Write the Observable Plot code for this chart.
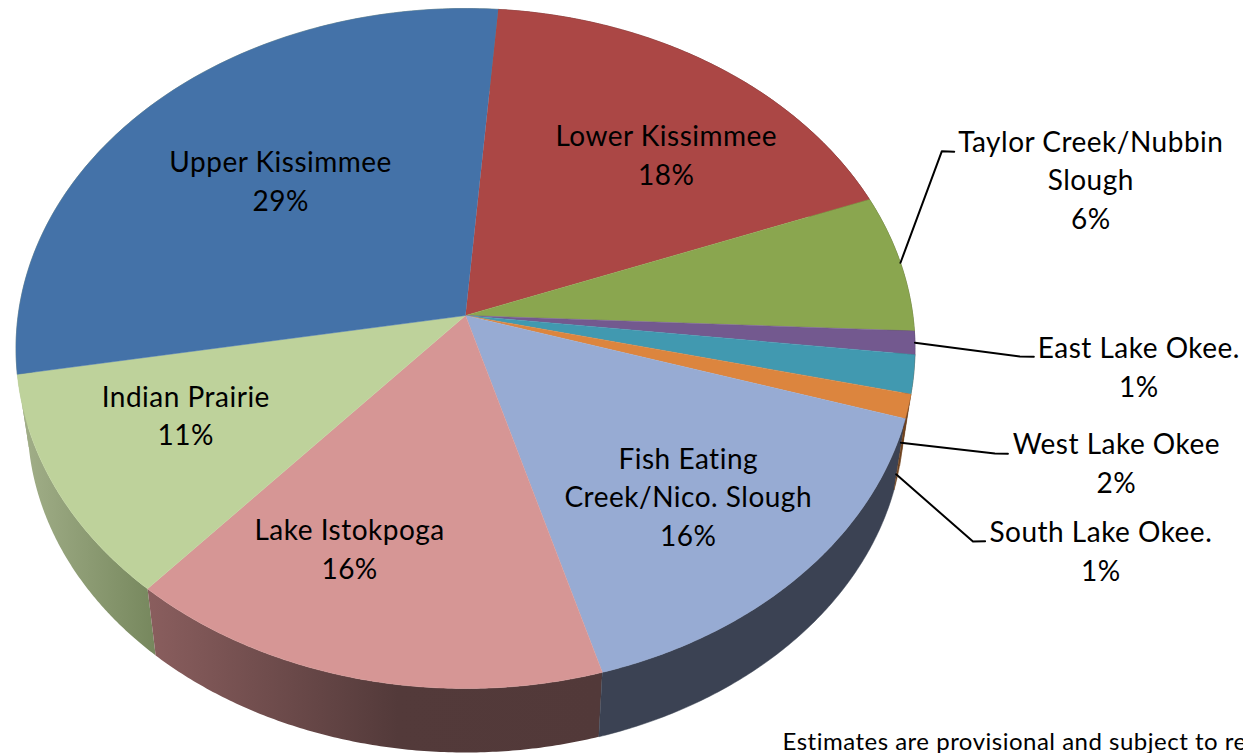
<!DOCTYPE html>
<html>
<head>
<meta charset="utf-8">
<style>
html,body{margin:0;padding:0;background:#fff;overflow:hidden}
svg{display:block}
</style>
<script src="https://cdn.jsdelivr.net/npm/d3@7"></script>
<script src="https://cdn.jsdelivr.net/npm/@observablehq/plot@0.6"></script>
</head>
<body>
<div id="chart"></div>
<script>
// ---- values (clockwise from the Upper/Lower Kissimmee boundary)
const categories = ["Lower Kissimmee","Taylor Creek/Nubbin\nSlough","East Lake Okee.","West Lake Okee","South Lake Okee.","Fish Eating\nCreek/Nico. Slough","Lake Istokpoga","Indian Prairie","Upper Kissimmee"];
const shares = [17.92,6.53,1.11,1.83,1.14,15.72,15.92,10.81,29.02];
const printedPercent = [18,6,1,2,1,16,16,11,29];
const topColors = ["#ab4745","#8aa64f","#73598f","#4199b0","#dc853e","#97abd3","#d69695","#bed29b","#4472a8"];
const wallFills = ["#572322","#465328","#3a2c48","#6e421f","#6e421f","#3b4253","url(#wall-pink)","url(#wall-green)","#929f78"];

// ---- label placement in pie coordinates: angle (deg), radius (1 = rim)
const labelAngle = [43.37,74,95.86,106.8,116.26,137.34,200.45,244.4,313.9];
const labelRadius = [.6851,1.5128,1.4906,1.4575,1.4828,.6982,.6947,.6737,.5966];
const leaders = [
  {id:"Taylor", path:[[80.85,1],[65.4,1.229],[66,1.255]]},
  {id:"East", path:[[94.6,1],[95.6,1.2306],[95.5,1.2613]]},
  {id:"West", path:[[111.2,1.007],[109.1,1.2044],[108.7,1.231]]},
  {id:"South", path:[[116.1,1.025],[120.6,1.2373],[120,1.2592]]}
];
const noteText = ["Estimates are provisional and subject to rev"];

// ---- pie geometry
const startAngle = 4.6, tilt = 0.097, squeeze = Math.sqrt(1 - tilt * tilt);
const topFace = {cx:465, cy:348, rx:449.5, ry:340};
const bottomFace = {cx:465, cy:421, rx:438, ry:331};
const rad = d => d * Math.PI / 180;
function project(angle, r, face = topFace) {
  const u = r * Math.sin(rad(angle)), v = r * Math.cos(rad(angle));
  const den = 1 + tilt * v;
  return {x: face.cx + face.rx * u * squeeze / den, y: face.cy - face.ry * (v + tilt) / den};
}
const total = d3.sum(shares);
const bounds = d3.cumsum(shares).map(c => startAngle + 360 * c / total);
const slices = categories.map((name, i) => ({
  name, i, a0: i ? bounds[i - 1] : startAngle, a1: bounds[i],
  color: topColors[i], wall: wallFills[i]
}));
const arcAngles = s => d3.range(0, 121).map(k => s.a0 + (s.a1 - s.a0) * k / 120);
const topPolygon = s => [project(0, 0), ...arcAngles(s).map(a => project(a, 1))];
const wallPolygon = s => [...arcAngles(s).map(a => project(a, 1)), ...arcAngles(s).reverse().map(a => project(a, 1, bottomFace))];

const labels = slices.map((s, i) => {
  const p = project(labelAngle[i], labelRadius[i]);
  return {...p, text: `${s.name}\n${printedPercent[i]}%`};
});
const leaderPoints = leaders.flatMap(l => l.path.map(([a, r]) => ({id: l.id, ...project(a, r)})));

const gradient = () => {
  const defs = d3.create("svg:defs");
  const add = (id, stops) => {
    const g = defs.append("linearGradient").attr("id", id).attr("x1", 0).attr("x2", 1).attr("y1", 0).attr("y2", 0);
    stops.forEach(([o, c]) => g.append("stop").attr("offset", o).attr("stop-color", c));
  };
  add("wall-pink", [[0, "#8a5e5e"], [0.55, "#533a3a"], [1, "#523939"]]);
  add("wall-green", [[0, "#a3b08a"], [1, "#76875d"]]);
  return defs.node();
};

const fontFamily = "Lato, 'Open Sans', sans-serif";
const poly = (pts, fill) => Plot.line(pts, {x:"x", y:"y", fill, stroke: fill.startsWith("url") ? "none" : fill, strokeWidth:.5, curve:"linear"});

const plot = Plot.plot({
  width:1243, height:753, margin:0,
  x:{domain:[0,1243], range:[0,1243], axis:null},
  y:{domain:[0,753], range:[0,753], axis:null},
  style:{background:"#fff", overflow:"hidden", letterSpacing:"0.5px"},
  marks:[
    gradient,
    ...[...slices].reverse().map(s => poly(wallPolygon(s), s.wall)),
    ...slices.map(s => poly(topPolygon(s), s.color)),
    Plot.line(leaderPoints, {x:"x", y:"y", z:"id", stroke:"#000", strokeWidth:2, curve:"linear"}),
    Plot.text(labels, {x:"x", y:"y", dy:-2.5, text:"text", fill:"#000", fontSize:28, fontFamily, lineHeight:1.375, textAnchor:"middle"}),
    Plot.text(noteText, {frameAnchor:"bottom-left", dx:782, dy:-4, text:d=>d, fill:"#000", fontSize:24, fontFamily, textAnchor:"start"})
  ]
});
document.getElementById("chart").appendChild(plot);
</script>
</body>
</html>
